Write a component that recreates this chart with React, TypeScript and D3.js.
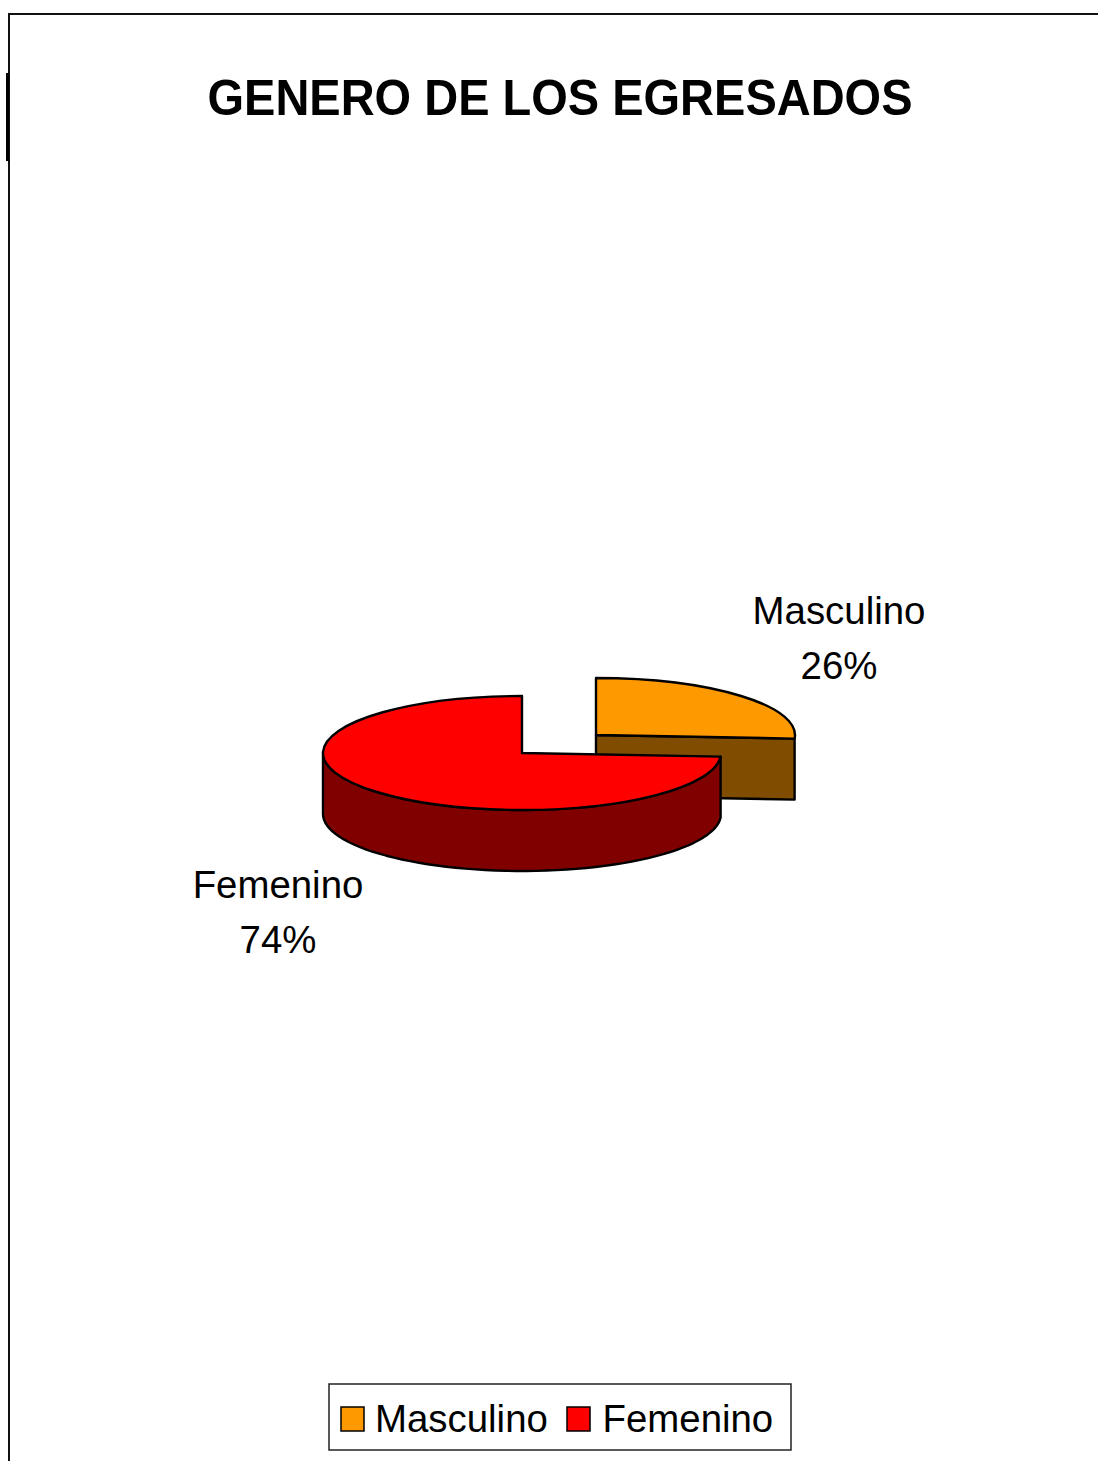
import React, { useEffect, useRef } from "react";
import * as d3 from "d3";

const categories = ["Masculino", "Femenino"];
const values = [26, 74];
const topColors = ["#ff9900", "#ff0000"];
const sideColors = ["#804d00", "#800000"];
const titleText = "GENERO DE LOS EGRESADOS";

const width = 1098;
const height = 1461;
const rx = 199;
const ry = 57;
const depth = 61;

// centro de cada porción (la masculina está separada)
const centers = [
  { x: 596, y: 735 },
  { x: 522, y: 753 },
];

const App: React.FC = () => {
  const ref = useRef<SVGSVGElement>(null);

  useEffect(() => {
    if (!ref.current) return;
    const svg = d3.select(ref.current);
    svg.selectAll("*").remove();

    svg.append("rect").attr("width", width).attr("height", height).attr("fill", "#fff");

    // marco de la imagen
    svg.append("path")
      .attr("d", `M9,${height}V14H${width}`)
      .attr("fill", "none")
      .attr("stroke", "#111")
      .attr("stroke-width", 2);
    svg.append("rect")
      .attr("x", 6).attr("y", 73).attr("width", 3).attr("height", 88)
      .attr("fill", "#000");

    const font = "'Liberation Sans', Arial, sans-serif";

    svg.append("text")
      .attr("x", 560).attr("y", 115)
      .attr("text-anchor", "middle")
      .attr("font-family", font)
      .attr("font-size", 50)
      .attr("font-weight", "bold")
      .attr("textLength", 705)
      .attr("lengthAdjust", "spacingAndGlyphs")
      .text(titleText);

    const pie = d3.pie<number>().sort(null);
    const arcs = pie(values);
    const arcGen = d3.arc<d3.PieArcDatum<number>>().innerRadius(0).outerRadius(rx);

    // punto sobre la elipse para un ángulo medido desde las 12
    const pt = (i: number, a: number, dy = 0): [number, number] => [
      centers[i].x + rx * Math.sin(a),
      centers[i].y - ry * Math.cos(a) + dy,
    ];

    const sidePath = (i: number) => {
      const d = arcs[i];
      const line = d3.line();
      if (i === 0) {
        // cara de corte visible de la porción masculina
        return line([pt(i, d.endAngle), [centers[i].x, centers[i].y], [centers[i].x, centers[i].y + depth], pt(i, d.endAngle, depth)])! + "Z";
      }
      // pared curva: sólo el tramo frontal de la elipse
      const stop = Math.PI * 1.5;
      const steps = d3.range(0, 61).map((k) => d.startAngle + ((stop - d.startAngle) * k) / 60);
      const up = steps.map((a) => pt(i, a));
      const down = steps.slice().reverse().map((a) => pt(i, a, depth));
      return line([...up, ...down])! + "Z";
    };

    // primero la masculina (atrás), luego la femenina
    arcs.forEach((d, i) => {
      const g = svg.append("g");
      g.append("path")
        .attr("d", sidePath(i))
        .attr("fill", sideColors[i])
        .attr("stroke", "#000")
        .attr("stroke-width", 2.4)
        .attr("stroke-linejoin", "round");
      g.append("path")
        .attr("d", arcGen(d)!)
        .attr("transform", `translate(${centers[i].x},${centers[i].y}) scale(1,${ry / rx})`)
        .attr("fill", topColors[i])
        .attr("stroke", "#000")
        .attr("stroke-width", 2.4)
        .attr("vector-effect", "non-scaling-stroke")
        .attr("stroke-linejoin", "round");
    });

    // etiquetas de datos
    const labelPos = [
      { x: 839, y: 624 },
      { x: 278, y: 898 },
    ];
    categories.forEach((c, i) => {
      const t = svg.append("text")
        .attr("text-anchor", "middle")
        .attr("font-family", font)
        .attr("font-size", 38.4)
        .attr("fill", "#000");
      t.append("tspan").attr("x", labelPos[i].x).attr("y", labelPos[i].y).text(c);
      t.append("tspan").attr("x", labelPos[i].x).attr("y", labelPos[i].y + 55).text(`${values[i]}%`);
    });

    // leyenda
    const legend = svg.append("g");
    legend.append("rect")
      .attr("x", 329).attr("y", 1384).attr("width", 462).attr("height", 66)
      .attr("fill", "#fff").attr("stroke", "#222").attr("stroke-width", 1.5);
    const legendKeyX = [341, 567];
    const legendTextX = [375, 602.5];
    categories.forEach((c, i) => {
      legend.append("rect")
        .attr("x", legendKeyX[i]).attr("y", 1407).attr("width", 23).attr("height", 24)
        .attr("fill", topColors[i]).attr("stroke", "#000").attr("stroke-width", 1.5);
      legend.append("text")
        .attr("x", legendTextX[i]).attr("y", 1432)
        .attr("font-family", font)
        .attr("font-size", 38.4)
        .attr("fill", "#000")
        .text(c);
    });
  }, []);

  return <svg ref={ref} width={width} height={height} style={{ position: "absolute", left: 0, top: 0 }} />;
};

export default App;
